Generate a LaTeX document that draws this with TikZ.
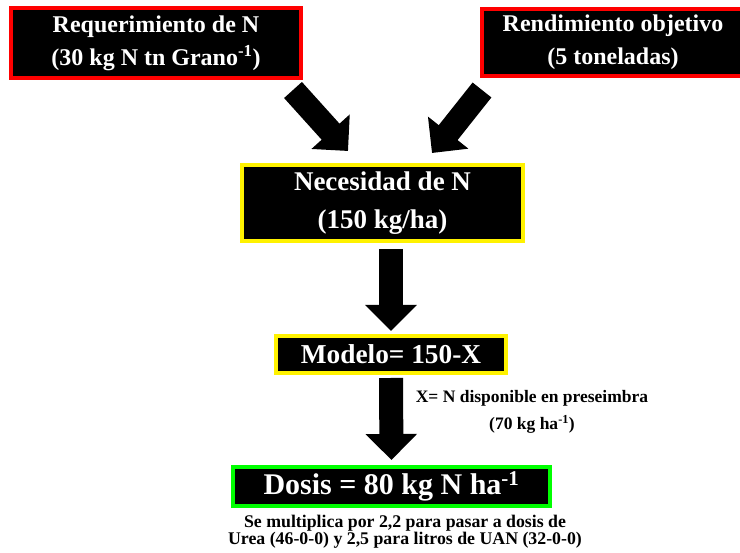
\documentclass[tikz,border=0pt]{standalone}
\usepackage{fontspec}
\setmainfont{Liberation Serif}
\usetikzlibrary{arrows.meta}
\usetikzlibrary{positioning}

\begin{document}
\begin{tikzpicture}[x=1pt, y=-1pt,
    caja/.style={line width=4pt, fill=black, text=white, align=center,
                 font=\bfseries, inner sep=0pt},
    flecha/.style={line width=24pt, -{Triangle[width=50pt, length=26pt]}},
    nota/.style={align=center, font=\bfseries}]
        \clip (0,0) rectangle (740,553);
        % cajas
        \node[caja, draw=red, minimum width=290pt, minimum height=70pt,
              font=\bfseries\fontsize{24}{33}\selectfont] at (156, 43) (req)
              {Requerimiento de N\\(30 kg N tn Grano\textsuperscript{-1})};
        \node[caja, draw=red, minimum width=262pt, minimum height=67pt,
              font=\bfseries\fontsize{24}{33}\selectfont] at (613, 42.5) (rend)
              {Rendimiento objetivo\\(5 toneladas)};
        \node[caja, draw=yellow, minimum width=281pt, minimum height=76pt,
              font=\bfseries\fontsize{27}{38}\selectfont] at (382.5, 203) (nec)
              {Necesidad de N\\(150 kg/ha)};
        \node[caja, draw=yellow, minimum width=230pt, minimum height=37pt,
              font=\bfseries\fontsize{27.3}{32}\selectfont] at (391, 354.5) (mod)
              {Modelo= 150-X};
        \node[caja, draw=green, minimum width=317pt, minimum height=39pt,
              font=\bfseries\fontsize{30}{32}\selectfont] at (391.5, 486.5) (dos)
              {Dosis = 80 kg N ha\textsuperscript{-1}};
        % textos sueltos
        \node[nota, font=\bfseries\fontsize{17.5}{27}\selectfont] at (532, 412) (x)
              {X= N disponible en preseimbra\\(70 kg ha\textsuperscript{-1})};
        \node[nota, font=\bfseries\fontsize{17.8}{15}\selectfont] at (405, 532) (mult)
              {Se multiplica por 2,2 para pasar a dosis de\\Urea (46-0-0) y 2,5 para litros de UAN (32-0-0)};
        % flechas
        \coordinate (a1) at (293, 90);
        \coordinate (b1) at (348, 151);
        \coordinate (a2) at (482, 90);
        \coordinate (b2) at (432, 153);
        \draw[flecha] (a1) -- (b1);
        \draw[flecha] (a2) -- (b2);
        \draw[flecha, shorten <=6pt, shorten >=3pt] (nec.south -| mod.north) -- (mod.north);
        \draw[flecha, shorten <=3pt, shorten >=5pt] (mod.south) -- (dos.north);
\end{tikzpicture}
\end{document}
